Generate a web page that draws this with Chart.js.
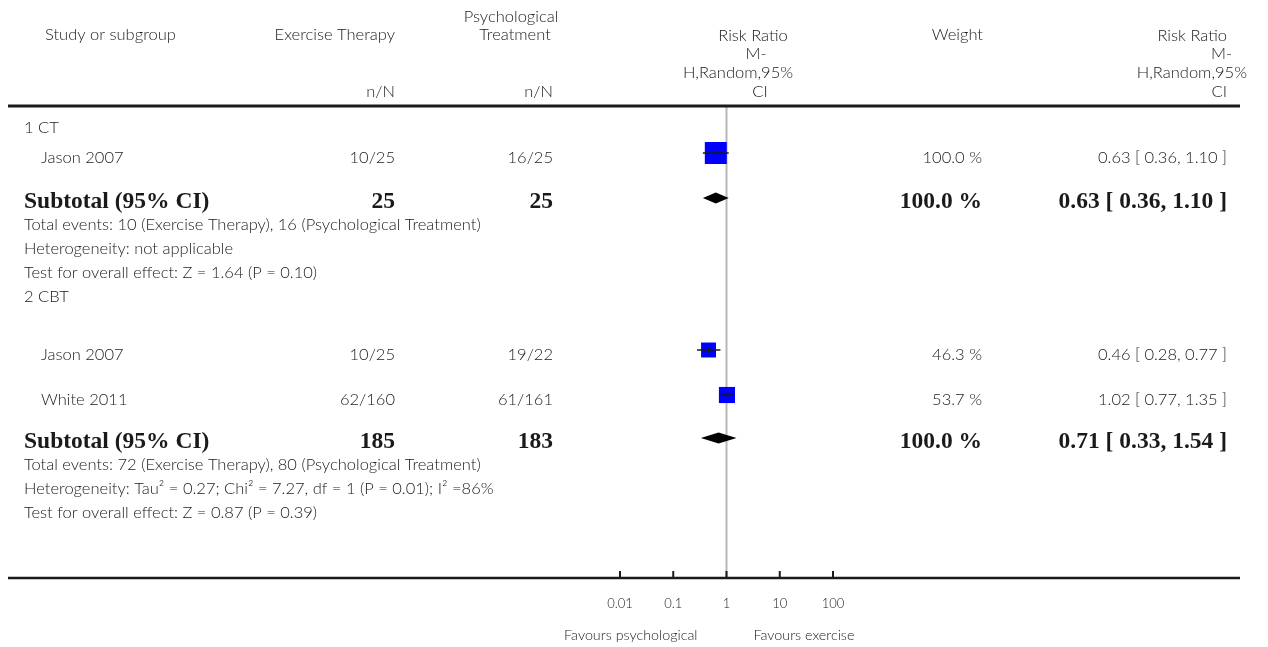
<!DOCTYPE html>
<html>
<head>
<meta charset="utf-8">
<script src="https://cdn.jsdelivr.net/npm/chart.js@4.4.0/dist/chart.umd.min.js"></script>
<style>
html, body { margin: 0; padding: 0; background: #fff; }
canvas { display: block; }
</style>
</head>
<body>
<canvas id="forest" width="1268" height="647"></canvas>
<script>
// study level data
const studyNames = ["Jason 2007", "Jason 2007", "White 2011"];
const exEvents = [10, 10, 62];
const exTotal = [25, 25, 160];
const psEvents = [16, 19, 61];
const psTotal = [25, 22, 161];
const studyRR = [0.63, 0.46, 1.02];
const studyLow = [0.36, 0.28, 0.77];
const studyHigh = [1.10, 0.77, 1.35];
const studyWeight = [100.0, 46.3, 53.7];

// subgroup data
const groupNames = ["1 CT", "2 CBT"];
const subExTotal = [25, 185];
const subPsTotal = [25, 183];
const subRR = [0.63, 0.71];
const subLow = [0.36, 0.33];
const subHigh = [1.10, 1.54];
const subWeight = [100.0, 100.0];
const totalEvents = [
    "Total events: 10 (Exercise Therapy), 16 (Psychological Treatment)",
    "Total events: 72 (Exercise Therapy), 80 (Psychological Treatment)",
];
const heterogeneity = [
    "Heterogeneity: not applicable",
    "Heterogeneity: Tau\u00B2 = 0.27; Chi\u00B2 = 7.27, df = 1 (P = 0.01); I\u00B2 =86%",
];
const overallTest = [
    "Test for overall effect: Z = 1.64 (P = 0.10)",
    "Test for overall effect: Z = 0.87 (P = 0.39)",
];

// axis
const axisTicks = [0.01, 0.1, 1, 10, 100];
const tickLabels = ["0.01", "0.1", "1", "10", "100"];
const favourLeft = "Favours psychological";
const favourRight = "Favours exercise";

// layout: text baseline of each table row, px below the header rule
const studyRows = [56, 253, 298];
const groupRows = [26, 195];
const subRows = [101, 341];
const eventRows = [123, 363];
const hetRows = [147, 387];
const testRows = [171, 411];

const REG = "300 16.5px Lato, 'Open Sans', sans-serif";
const TICK = "300 13px Lato, 'Open Sans', sans-serif";
const FAV = "300 14.3px Lato, 'Open Sans', sans-serif";
const BOLD = "bold 23.5px 'Liberation Serif', 'DejaVu Serif', serif";
const INK = "#1a1a1a";
const MARK_LIFT = 10; // marks sit a little above the text baseline

const fmt2 = (v) => v.toFixed(2);
const ciText = (r, lo, hi) => fmt2(r) + " [ " + fmt2(lo) + ", " + fmt2(hi) + " ]";
const squareSide = (w) => 22 * Math.sqrt(w / 100);

function write(ctx, s, x, y, align, font) {
    ctx.font = font;
    ctx.textAlign = align;
    ctx.textBaseline = "alphabetic";
    ctx.fillText(s, x, y);
}

const tablePlugin = {
    id: "forestTable",
    beforeDatasetsDraw(chart) {
        const ctx = chart.ctx;
        const xs = chart.scales.x;
        const area = chart.chartArea;
        const x1 = xs.getPixelForValue(1);
        ctx.save();
        // line of no effect
        ctx.strokeStyle = "#b8b8b8";
        ctx.lineWidth = 2;
        ctx.beginPath();
        ctx.moveTo(x1, area.top);
        ctx.lineTo(x1, area.bottom);
        ctx.stroke();
        ctx.restore();
    },
    afterDatasetsDraw(chart) {
        const ctx = chart.ctx;
        const xs = chart.scales.x;
        const ys = chart.scales.y;
        const area = chart.chartArea;
        const rowY = (v) => ys.getPixelForValue(v);
        ctx.save();
        ctx.fillStyle = INK;
        ctx.strokeStyle = INK;

        // rules
        ctx.lineWidth = 3;
        ctx.beginPath();
        ctx.moveTo(8, area.top - 1);
        ctx.lineTo(1240, area.top - 1);
        ctx.stroke();
        ctx.lineWidth = 2.5;
        ctx.beginPath();
        ctx.moveTo(8, area.bottom + 1);
        ctx.lineTo(1240, area.bottom + 1);
        ctx.stroke();

        // axis ticks and labels
        ctx.lineWidth = 2;
        axisTicks.forEach((t, i) => {
            const px = xs.getPixelForValue(t);
            ctx.beginPath();
            ctx.moveTo(px, area.bottom + 1);
            ctx.lineTo(px, area.bottom - 6);
            ctx.stroke();
            write(ctx, tickLabels[i], px, area.bottom + 31, "center", TICK);
        });
        const x1 = xs.getPixelForValue(1);
        write(ctx, favourLeft, x1 - 29, area.bottom + 63, "right", FAV);
        write(ctx, favourRight, x1 + 27, area.bottom + 63, "left", FAV);

        // header
        write(ctx, "Study or subgroup", 45, 40, "left", REG);
        write(ctx, "Exercise Therapy", 395, 40, "right", REG);
        write(ctx, "Psychological", 511, 22, "center", REG);
        write(ctx, "Treatment", 515, 40, "center", REG);
        write(ctx, "n/N", 395, 97, "right", REG);
        write(ctx, "n/N", 553, 97, "right", REG);
        write(ctx, "Risk Ratio", 753, 41, "center", REG);
        write(ctx, "M-", 756, 59, "center", REG);
        write(ctx, "H,Random,95%", 738, 78, "center", REG);
        write(ctx, "CI", 760, 97, "center", REG);
        write(ctx, "Weight", 983, 40, "right", REG);
        write(ctx, "Risk Ratio", 1227, 41, "right", REG);
        write(ctx, "M-", 1232, 59, "right", REG);
        write(ctx, "H,Random,95%", 1247, 78, "right", REG);
        write(ctx, "CI", 1227, 97, "right", REG);

        // study rows
        studyNames.forEach((name, i) => {
            const y = rowY(studyRows[i]);
            write(ctx, name, 41, y, "left", REG);
            write(ctx, exEvents[i] + "/" + exTotal[i], 395, y, "right", REG);
            write(ctx, psEvents[i] + "/" + psTotal[i], 553, y, "right", REG);
            write(ctx, studyWeight[i].toFixed(1) + " %", 982, y, "right", REG);
            write(ctx, ciText(studyRR[i], studyLow[i], studyHigh[i]), 1227, y, "right", REG);
            // small mark at the point estimate
            const px = xs.getPixelForValue(studyRR[i]);
            const yc = rowY(studyRows[i] - MARK_LIFT);
            ctx.lineWidth = 1;
            ctx.beginPath();
            ctx.moveTo(px, yc - 2.5);
            ctx.lineTo(px, yc + 2.5);
            ctx.stroke();
        });

        // subgroup rows
        groupNames.forEach((g, i) => {
            write(ctx, g, 24, rowY(groupRows[i]), "left", REG);
            const y = rowY(subRows[i]);
            write(ctx, "Subtotal (95% CI)", 24, y, "left", BOLD);
            write(ctx, String(subExTotal[i]), 395, y, "right", BOLD);
            write(ctx, String(subPsTotal[i]), 553, y, "right", BOLD);
            write(ctx, subWeight[i].toFixed(1) + " %", 982, y, "right", BOLD);
            write(ctx, ciText(subRR[i], subLow[i], subHigh[i]), 1227, y, "right", BOLD);
            write(ctx, totalEvents[i], 24, rowY(eventRows[i]), "left", REG);
            write(ctx, heterogeneity[i], 24, rowY(hetRows[i]), "left", REG);
            write(ctx, overallTest[i], 24, rowY(testRows[i]), "left", REG);

            // pooled diamond
            const yc = rowY(subRows[i] - MARK_LIFT);
            const lo = xs.getPixelForValue(subLow[i]);
            const md = xs.getPixelForValue(subRR[i]);
            const hi = xs.getPixelForValue(subHigh[i]);
            ctx.fillStyle = "#000";
            ctx.beginPath();
            ctx.moveTo(lo, yc);
            ctx.lineTo(md, yc - 5.5);
            ctx.lineTo(hi, yc);
            ctx.lineTo(md, yc + 5.5);
            ctx.closePath();
            ctx.fill();
            ctx.fillStyle = INK;
        });
        ctx.restore();
    },
};

const squares = {
    type: "scatter",
    data: studyRR.map((r, i) => ({ x: r, y: studyRows[i] - MARK_LIFT })),
    pointStyle: "rect",
    pointRadius: studyWeight.map((w) => squareSide(w) / Math.SQRT2),
    backgroundColor: "#0000ff",
    borderWidth: 0,
    order: 1,
};

const ciLines = studyRR.map((r, i) => ({
    type: "scatter",
    data: [
        { x: studyLow[i], y: studyRows[i] - MARK_LIFT },
        { x: studyHigh[i], y: studyRows[i] - MARK_LIFT },
    ],
    showLine: true,
    pointRadius: 0,
    borderColor: INK,
    borderWidth: 1.5,
    order: 0,
}));

const config = {
    type: "scatter",
    data: { datasets: [squares, ...ciLines] },
    options: {
        responsive: false,
        animation: false,
        events: [],
        layout: {
            padding: { left: 620, right: 435, top: 107, bottom: 70 },
        },
        plugins: {
            legend: { display: false },
            tooltip: { enabled: false },
        },
        scales: {
            x: { type: "logarithmic", min: 0.01, max: 100, display: false },
            y: { type: "linear", min: 0, max: 470, reverse: true, display: false },
        },
    },
    plugins: [tablePlugin],
};

const forest = new Chart(document.getElementById("forest").getContext("2d"), config);
</script>
</body>
</html>
